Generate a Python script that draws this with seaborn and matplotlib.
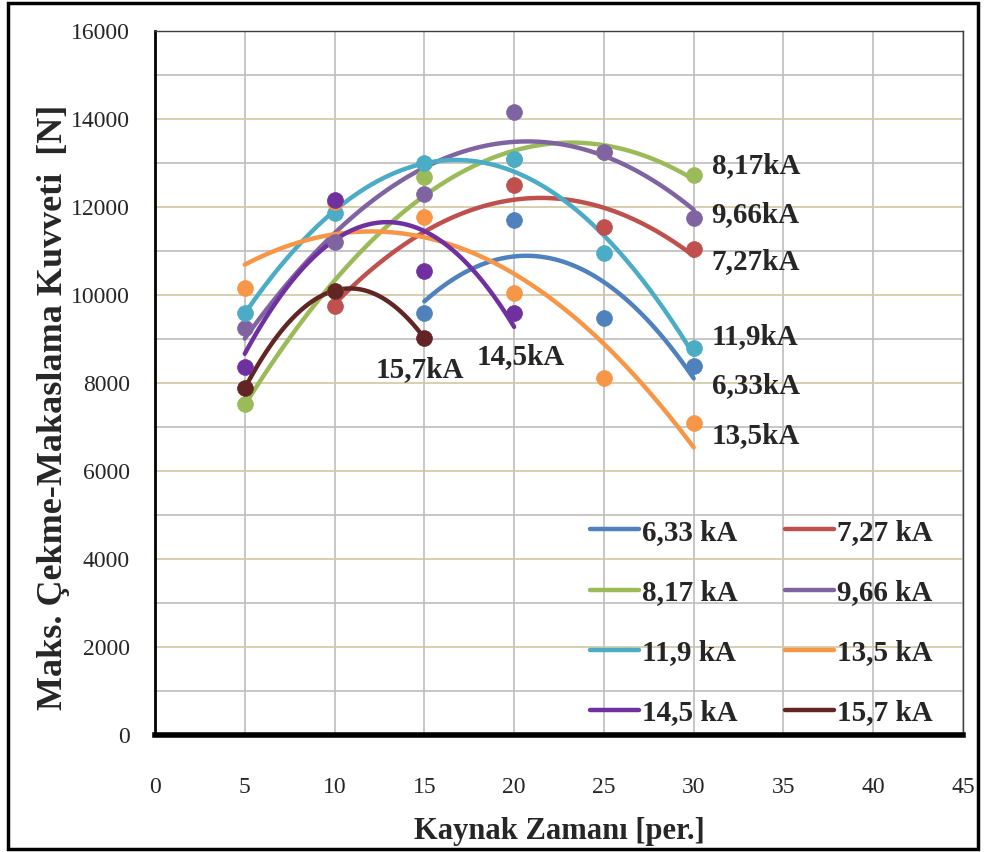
import numpy as np
import pandas as pd
import matplotlib.pyplot as plt
import seaborn as sns
from matplotlib.patches import Rectangle
from matplotlib.ticker import MultipleLocator

# Values: weld time [per.] vs max. tensile-shear force [N]
t_633 = [15, 20, 25, 30]
f_633 = [9580, 11700, 9470, 8380]
t_727 = [10, 20, 25, 30]
f_727 = [9740, 12490, 11550, 11050]
t_817 = [5, 10, 15, 20, 25, 30]
f_817 = [7520, 10100, 12690, 13100, 13250, 12730]
t_966 = [5, 10, 15, 20, 25, 30]
f_966 = [9240, 11210, 12290, 14150, 13260, 11740]
t_119 = [5, 10, 15, 20, 25, 30]
f_119 = [9580, 11860, 13000, 13100, 10950, 8790]
t_135 = [5, 10, 15, 20, 25, 30]
f_135 = [10150, 12120, 11780, 10040, 8110, 7090]
t_145 = [5, 10, 15, 20]
f_145 = [8360, 12160, 10540, 9580]
t_157 = [5, 10, 15]
f_157 = [7880, 10100, 9020]

series = ["6,33 kA", "7,27 kA", "8,17 kA", "9,66 kA",
          "11,9 kA", "13,5 kA", "14,5 kA", "15,7 kA"]
times = [t_633, t_727, t_817, t_966, t_119, t_135, t_145, t_157]
forces = [f_633, f_727, f_817, f_966, f_119, f_135, f_145, f_157]
colors = ["#4F81BD", "#C0504D", "#9BBB59", "#8064A2",
          "#4BACC6", "#F79646", "#7030A0", "#632523"]

df = pd.concat([pd.DataFrame({"t": t, "F": f, "akim": s})
                for s, t, f in zip(series, times, forces)], ignore_index=True)

# end-of-curve labels: (text, x, y)
end_labels = [("8,17kA", 31.0, 12950), ("9,66kA", 31.0, 11820),
              ("7,27kA", 31.0, 10760), ("11,9kA", 31.0, 9060),
              ("6,33kA", 31.0, 7950), ("13,5kA", 31.0, 6800)]
mid_labels = [("14,5kA", 20.4, 8600), ("15,7kA", 14.75, 8300)]

sns.set_style("white")
plt.rcParams['font.family'] = ['Liberation Serif', 'DejaVu Serif']

fig, ax = plt.subplots(figsize=(9.84, 8.52), dpi=100)
fig.subplots_adjust(left=0.1575, right=0.9787, bottom=0.1373, top=0.9636)

handles = {}
for s, c in zip(series, colors):
    sub = df[df["akim"] == s]
    sns.regplot(data=sub, x="t", y="F", order=2, ci=None, scatter=False,
                truncate=True, color=c, line_kws={"lw": 3.2, "solid_capstyle": "round"}, ax=ax)
    handles[s] = ax.lines[-1]
    sns.scatterplot(data=sub, x="t", y="F", color=c, s=130, edgecolor=c,
                    linewidth=0.5, zorder=3, ax=ax, legend=False)

ax.set_xlim(0, 45)
ax.set_ylim(0, 16000)
ax.xaxis.set_major_locator(MultipleLocator(5))
ax.yaxis.set_major_locator(MultipleLocator(2000))
ax.yaxis.set_minor_locator(MultipleLocator(1000))
ax.set_axisbelow(True)
ax.grid(which="major", axis="x", color="#BDBDBD", lw=1.2)
ax.grid(which="major", axis="y", color="#CFC8A3", lw=1.2)
ax.grid(which="minor", axis="y", color="#BDBDBD", lw=1.2)
ax.tick_params(which="both", length=0)
ax.tick_params(axis="y", labelsize=17, pad=18)
ax.tick_params(axis="x", labelsize=17, pad=30)

for side in ["top", "right"]:
    ax.spines[side].set_color("#404040")
    ax.spines[side].set_linewidth(1)
ax.spines["left"].set_color("black")
ax.spines["left"].set_linewidth(2)
ax.spines["bottom"].set_color("black")
ax.spines["bottom"].set_linewidth(4)

ax.set_xlabel("Kaynak Zamanı [per.]", fontsize=22, fontweight="bold", labelpad=14)
ax.set_ylabel("Maks. Çekme-Makaslama Kuvveti  [N]", fontsize=26, fontweight="bold")
ax.yaxis.set_label_coords(-0.105, 0.466)

for txt, x, y in end_labels:
    ax.text(x, y, txt, fontsize=21, fontweight="bold", ha="left", va="center")
for txt, x, y in mid_labels:
    ax.text(x, y, txt, fontsize=21, fontweight="bold", ha="center", va="center")

order = ["6,33 kA", "8,17 kA", "11,9 kA", "14,5 kA",
         "7,27 kA", "9,66 kA", "13,5 kA", "15,7 kA"]
ax.legend([handles[s] for s in order], order, ncol=2, frameon=False,
          loc="lower right", bbox_to_anchor=(0.995, -0.025),
          prop={"size": 21, "weight": "bold"}, handlelength=1.7,
          handletextpad=0.1, columnspacing=1.6, labelspacing=1.14)

fig.patches.append(Rectangle((0.008, 0.004), 0.986, 0.992, transform=fig.transFigure,
                             fill=False, edgecolor="black", lw=2.5))

plt.savefig("out.png", dpi=100)
